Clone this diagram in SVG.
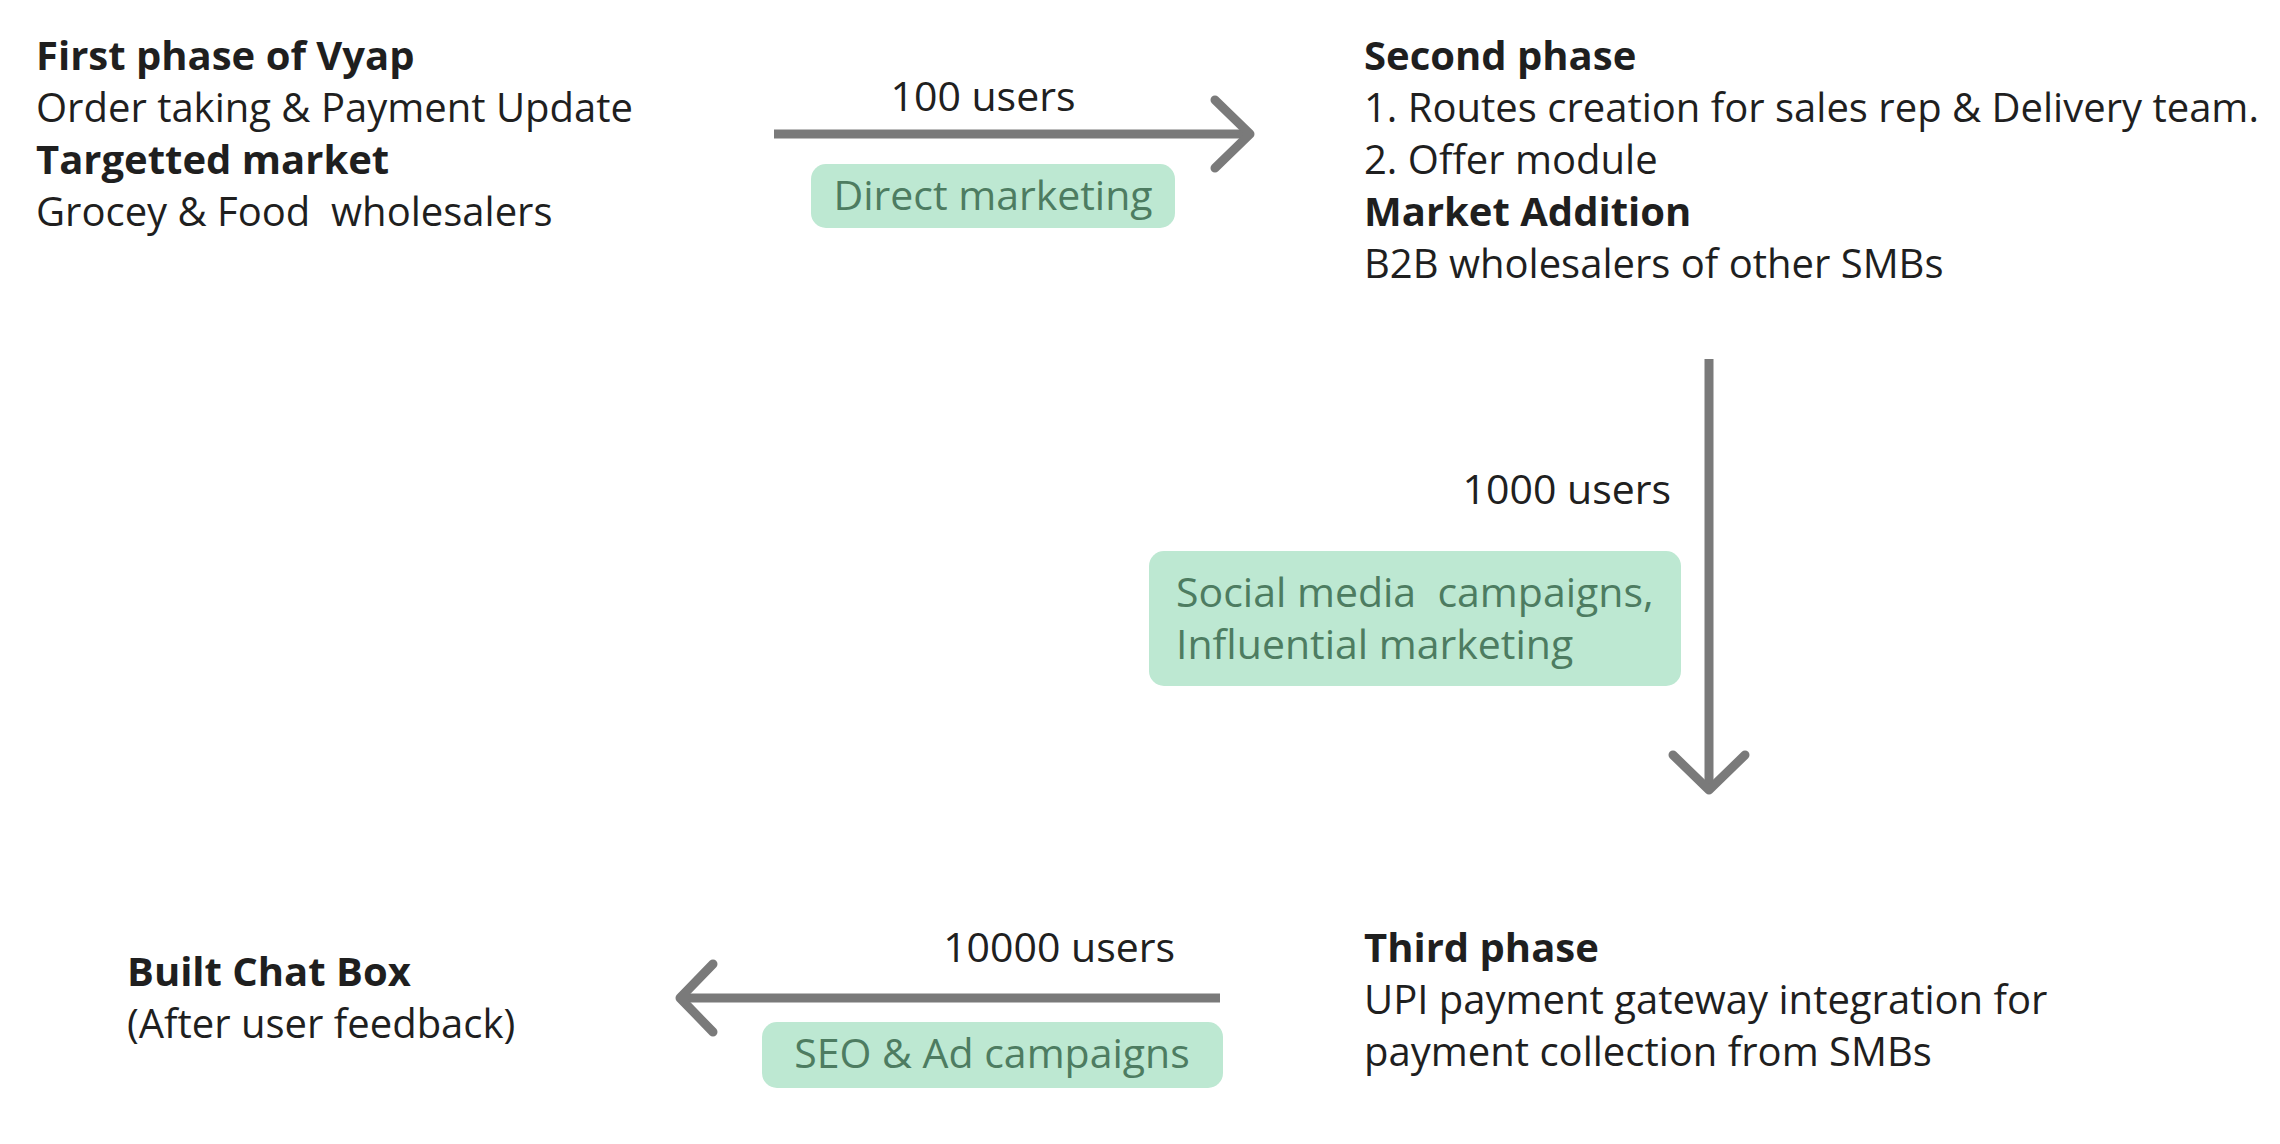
<svg xmlns="http://www.w3.org/2000/svg" width="2280" height="1144" viewBox="0 0 2280 1144">
<style>
text{font-family:"Open Sans","Liberation Sans",sans-serif;font-size:40px;fill:#1f1f1f;white-space:pre}
.b{font-weight:700}
.g{fill:#4d7c61;font-size:41px}
.lab{fill:#202020;font-size:41px}
.tag{fill:#bde8d2}
.con{stroke:#7a7a7a;stroke-width:9;fill:none;stroke-linecap:round;stroke-linejoin:round}
</style>
<rect width="2280" height="1144" fill="#ffffff"/>
<g id="connectors">
<g id="c1"><line class="con" x1="774" y1="134" x2="1250" y2="134" style="stroke-linecap:butt"/><polyline class="con" points="1215,100 1250,134 1215,168"/></g>
<g id="c2"><line class="con" x1="1709" y1="359" x2="1709" y2="790" style="stroke-linecap:butt"/><polyline class="con" points="1673,755 1709,790 1745,755"/></g>
<g id="c3"><line class="con" x1="1220" y1="998" x2="680" y2="998" style="stroke-linecap:butt"/><polyline class="con" points="713,964 680,998 713,1032"/></g>
<text class="lab" x="983" y="111" text-anchor="middle">100 users</text>
<rect class="tag" x="811" y="164" width="364" height="64" rx="15"/>
<text class="g" x="993" y="210" text-anchor="middle">Direct marketing</text>
<text class="lab" x="1671" y="504" text-anchor="end">1000 users</text>
<rect class="tag" x="1149" y="551" width="532" height="135" rx="15"/>
<text class="g" x="1176" y="607">Social media  campaigns,</text>
<text class="g" x="1176" y="659">Influential marketing</text>
<text class="lab" x="1175" y="962" text-anchor="end">10000 users</text>
<rect class="tag" x="762" y="1022" width="461" height="66" rx="15"/>
<text class="g" x="992" y="1068" text-anchor="middle">SEO &amp; Ad campaigns</text>
</g>
<g id="phase1">
<text class="b" x="36" y="70">First phase of Vyap</text>
<text x="36" y="122">Order taking &amp; Payment Update</text>
<text class="b" x="36" y="174">Targetted market</text>
<text x="36" y="226">Grocey &amp; Food  wholesalers</text>
</g>
<g id="phase2">
<text class="b" x="1364" y="70">Second phase</text>
<text x="1364" y="122">1. Routes creation for sales rep &amp; Delivery team.</text>
<text x="1364" y="174">2. Offer module</text>
<text class="b" x="1364" y="226">Market Addition</text>
<text x="1364" y="278">B2B wholesalers of other SMBs</text>
</g>
<g id="phase3">
<text class="b" x="1364" y="962">Third phase</text>
<text x="1364" y="1014">UPI payment gateway integration for</text>
<text x="1364" y="1066">payment collection from SMBs</text>
</g>
<g id="chatbox">
<text class="b" x="127" y="986">Built Chat Box</text>
<text x="127" y="1038">(After user feedback)</text>
</g>
</svg>
